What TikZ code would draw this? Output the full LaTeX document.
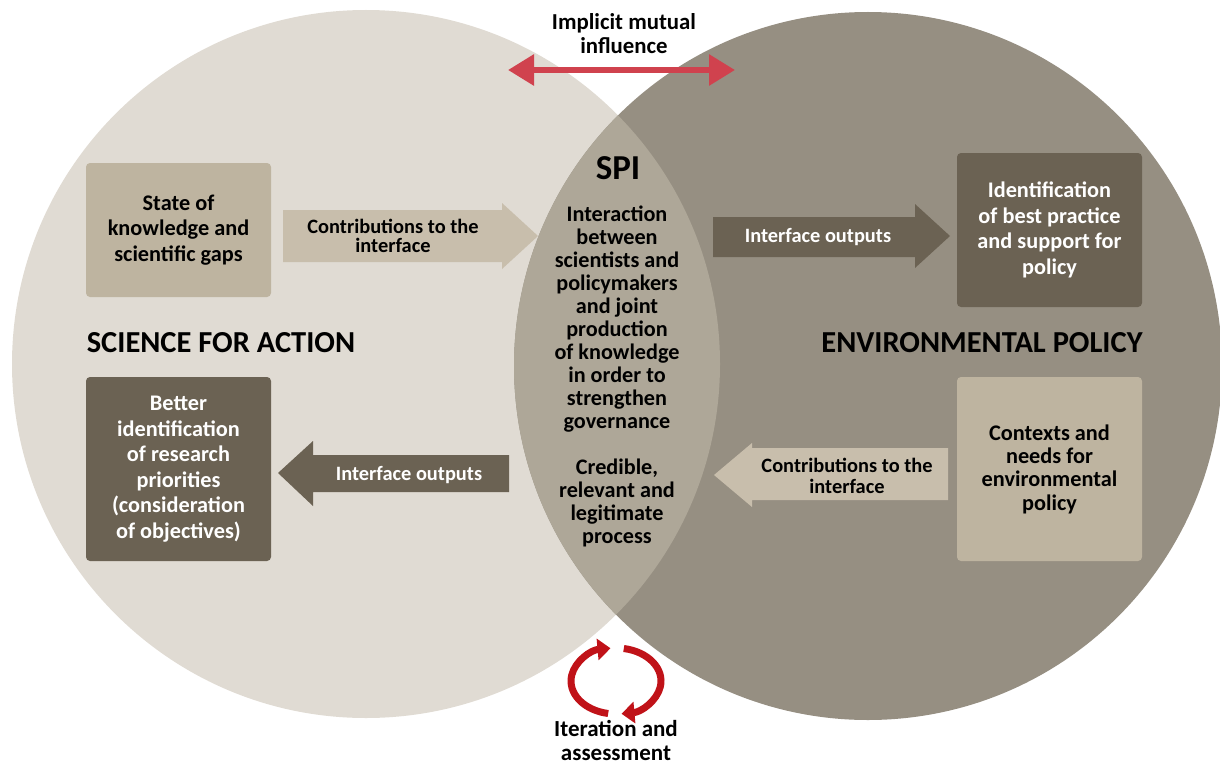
\documentclass[tikz,border=0pt]{standalone}
\usepackage{fontspec}
\setmainfont{Carlito}
\usetikzlibrary{arrows.meta}
\definecolor{scilight}{RGB}{224,219,211}
\definecolor{polgrey}{RGB}{150,143,130}
\definecolor{spigrey}{RGB}{174,167,152}
\definecolor{boxlight}{RGB}{190,180,160}
\definecolor{boxdark}{RGB}{107,98,83}
\definecolor{arrlight}{RGB}{200,190,172}
\definecolor{mutualred}{RGB}{208,66,78}
\definecolor{iterred}{RGB}{192,18,24}
\tikzset{
  lightbox/.style={fill=boxlight, rounded corners=4pt, minimum width=185pt, inner sep=0pt, align=center, font=\bfseries\fontsize{22.3}{25.5}\selectfont},
  darkbox/.style={lightbox, fill=boxdark, text=white},
  heading/.style={font=\bfseries\fontsize{30.5}{34}\selectfont},
  arrowtext/.style={align=center, font=\bfseries\fontsize{20.4}{19.5}\selectfont},
  spitext/.style={align=center, font=\bfseries\fontsize{22.2}{23}\selectfont},
}

\begin{document}
\begin{tikzpicture}[x=1pt,y=-1pt]
\useasboundingbox (0,0) rectangle (1220,765);
% the two spheres and the interface between them
\fill[scilight] (366,364) circle[radius=354pt];
\fill[polgrey] (868,366) circle[radius=354pt];
\begin{scope}
  \clip (366,364) circle[radius=354pt];
  \fill[spigrey] (868,366) circle[radius=354pt];
\end{scope}
%
\node [lightbox, minimum height=134pt] at (178.5,230) (state gaps) {State of\\knowledge and\\scientific gaps};
\node [darkbox, minimum height=184pt] at (178.5,469) (research priorities) {Better\\identification\\of research\\priorities\\(consideration\\of objectives)};
\node [darkbox, minimum height=154pt] at (1049.5,230) (best practice) {Identification\\of best practice\\and support for\\policy};
\node [lightbox, minimum height=184pt, font=\bfseries\fontsize{22.3}{23.3}\selectfont] at (1049.5,469) (policy needs) {Contexts and\\needs for\\environmental\\policy};
%
\node [heading] at (221,343) (science) {SCIENCE FOR ACTION};
\node [heading] at (982,343) (policy) {ENVIRONMENTAL POLICY};
%
\node [font=\bfseries\fontsize{35}{38}\selectfont] at (618,168) (spi) {SPI};
\node [spitext] at (617,319.5) (spi interaction) {Interaction\\between\\scientists and\\policymakers\\and joint\\production\\of knowledge\\in order to\\strengthen\\governance};
\node [spitext] at (617,502.5) (spi process) {Credible,\\relevant and\\legitimate\\process};
%
% block arrows
\fill[arrlight] (283,210) -- (502,210) -- (502,203) -- (538,236) -- (502,269) -- (502,262) -- (283,262) -- cycle;
\node [arrowtext] at (393,236) (sci contrib) {Contributions to the\\interface};
\fill[boxdark] (713,217) -- (915,217) -- (915,204) -- (950,236) -- (915,268) -- (915,257) -- (713,257) -- cycle;
\node [arrowtext, text=white] at (818,237) (pol outputs) {Interface outputs};
\fill[boxdark] (509,455) -- (313,455) -- (313,441) -- (278,473) -- (313,506) -- (313,492) -- (509,492) -- cycle;
\node [arrowtext, text=white] at (409,475) (sci outputs) {Interface outputs};
\fill[arrlight] (948,448) -- (752,448) -- (752,443) -- (714,475) -- (752,507) -- (752,500) -- (948,500) -- cycle;
\node [arrowtext, align=center, font=\bfseries\fontsize{20.4}{21}\selectfont] at (847,476) (pol contrib) {Contributions to the\\interface};
%
% mutual influence
\node [font=\bfseries\fontsize{22.8}{24}\selectfont, align=center] at (624,34) (mutual) {Implicit mutual\\influence};
\coordinate (mutual west) at (508,70);
\coordinate (mutual east) at (735,70);
\draw[mutualred, line width=6pt, {Triangle[length=26pt,width=30pt]}-{Triangle[length=26pt,width=30pt]}] (mutual west) -- (mutual east);
%
% iteration
\coordinate (iter) at (616,681);
\draw[iterred, line width=7pt, -{Triangle[length=13pt,width=21pt]}] ([shift={(260:45pt and 33pt)}]iter) arc[start angle=260, end angle=97, x radius=45pt, y radius=33pt];
\draw[iterred, line width=7pt, -{Triangle[length=13pt,width=21pt]}] ([shift={(80:45pt and 33pt)}]iter) arc[start angle=80, end angle=-83, x radius=45pt, y radius=33pt];
\node [font=\bfseries\fontsize{23}{24}\selectfont, align=center] at (616,740) (iteration) {Iteration and\\assessment};

\end{tikzpicture}
\end{document}
